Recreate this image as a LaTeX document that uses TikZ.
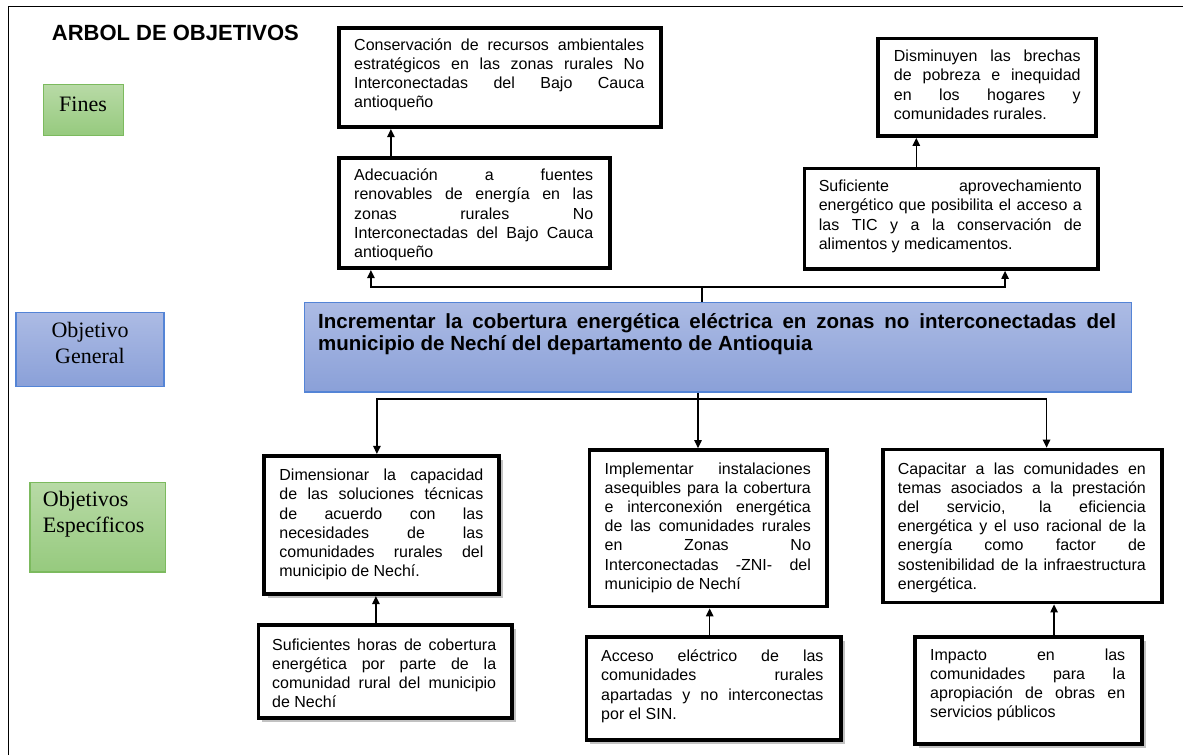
\documentclass[tikz,border=0pt]{standalone}
\usepackage{fontspec}
\setmainfont{Liberation Sans}
\newfontfamily\serifa{Liberation Serif}
\usetikzlibrary{arrows.meta,fit,shadows}
\definecolor{verdeA}{RGB}{184,218,166}
\definecolor{verdeB}{RGB}{150,202,126}
\definecolor{verdeBorde}{RGB}{124,186,94}
\definecolor{azulA}{RGB}{172,187,228}
\definecolor{azulB}{RGB}{138,160,216}
\definecolor{azulBorde}{RGB}{84,132,214}
\def\cuerpo{\fontsize{16}{19.2}\selectfont}
\def\grande{\fontsize{20.5}{22}\selectfont\bfseries}
\def\etiq{\serifa\fontsize{22}{25.5}\selectfont}
\tikzset{
	caja/.style={draw=black, line width=3.8pt, fill=white, inner sep=0pt},
	sombra/.style={drop shadow={shadow xshift=4pt, shadow yshift=-4pt, fill=black!40, opacity=.6}},
	texto/.style={anchor=north west, inner sep=0pt, align=justify, font=\cuerpo,
		execute at begin node={\tolerance=10000\hbadness=10000\strut}},
	verde/.style={draw=verdeBorde, line width=1.5pt, top color=verdeA, bottom color=verdeB, inner sep=0pt},
	azul/.style={draw=azulBorde, line width=1.5pt, top color=azulA, bottom color=azulB, inner sep=0pt},
	etiqueta/.style={inner sep=0pt, font=\etiq, execute at begin node=\strut},
	linea/.style={line width=1.3pt},
	flecha/.style={line width=1.3pt, -{Triangle[length=8pt,width=7.5pt]}}
}

\begin{document}
\begin{tikzpicture}[x=1pt, y=-1pt]
			%%%%% START %%%%%
			\useasboundingbox (0,0) rectangle (1183,755);
			\draw[line width=1.5pt] (8.4,755) -- (8.4,6.7) -- (1183,6.7);
			
			\node[anchor=base west, inner sep=0pt, font=\fontsize{22}{26}\selectfont\bfseries] (titulo) at (51.7,40) {ARBOL DE OBJETIVOS};
			
			%% etiquetas
			\node[verde, fit={(43.7,84.7) (123.3,135.3)}] (fines) {};
			\node[etiqueta, anchor=north] (finest) at (83,93.8) {Fines};
			\node[azul, fit={(16,312.4) (163.9,386.6)}] (og) {};
			\node[etiqueta, anchor=north, align=center] (ogt) at (90,322.3) {Objetivo\\General};
			\node[verde, fit={(30,482.4) (165.3,572)}] (oe) {};
			\node[etiqueta, anchor=north west, align=left] (oet) at (42.7,491.5) {Objetivos\\Específicos};
			
			%% fines
			\node[caja, fit={(339.3,27.8) (661.2,127.2)}] (c1) {};
			\node[texto, text width=290pt] (c1t) at (354,36.4) {Conservación de recursos ambientales\linebreak estratégicos en las zonas rurales No\linebreak Interconectadas del Bajo Cauca\linebreak antioqueño};
			
			\node[caja, fit={(339.3,157.8) (610.2,268.2)}] (a1) {};
			\node[texto, text width=239pt] (a1t) at (354,167.1) {Adecuación a fuentes\linebreak renovables de energía en las\linebreak zonas rurales No\linebreak Interconectadas del Bajo Cauca\linebreak antioqueño};
			
			\node[caja, fit={(877.8,38.5) (1096.2,136)}] (d) {};
			\node[texto, text width=186.7pt] (dt) at (893.7,48.1) {Disminuyen las brechas\linebreak de pobreza e inequidad\linebreak en los hogares y\linebreak comunidades rurales.};
			
			\node[caja, fit={(804.4,168.5) (1098.2,269)}] (s) {};
			\node[texto, text width=263pt] (st) at (818.6,178.1) {Suficiente aprovechamiento\linebreak energético que posibilita el acceso a\linebreak las TIC y a la conservación de\linebreak alimentos y medicamentos.};
			
			%% objetivo general
			\node[azul, fit={(304.3,302.7) (1131.3,392)}] (g) {};
			\node[texto, font=\grande, text width=798pt] (gt) at (318,312.9) {Incrementar la cobertura energética eléctrica en zonas no interconectadas del\linebreak municipio de Nechí del departamento de Antioquia};
			
			%% objetivos especificos
			\node[caja, sombra, fit={(263.8,455.8) (498.9,594.2)}] (dim) {};
			\node[texto, text width=204pt] (dimt) at (279.2,467.1) {Dimensionar la capacidad\linebreak de las soluciones técnicas\linebreak de acuerdo con las\linebreak necesidades de las\linebreak comunidades rurales del\linebreak municipio de Nechí.};
			
			\node[caja, fit={(589.5,450) (827.2,606.5)}] (imp) {};
			\node[texto, text width=206.2pt] (impt) at (604.5,460.4) {Implementar instalaciones\linebreak asequibles para la cobertura\linebreak e interconexión energética\linebreak de las comunidades rurales\linebreak en Zonas No\linebreak Interconectadas -ZNI- del\linebreak municipio de Nechí};
			
			\node[caja, fit={(882.8,449.5) (1162.3,602.5)}] (cap) {};
			\node[texto, text width=248pt] (capt) at (897.7,460.4) {Capacitar a las comunidades en\linebreak temas asociados a la prestación\linebreak del servicio, la eficiencia\linebreak energética y el uso racional de la\linebreak energía como factor de\linebreak sostenibilidad de la infraestructura\linebreak energética.};
			
			%% medios
			\node[caja, sombra, fit={(258.4,625) (512,718.2)}] (suf) {};
			\node[texto, text width=224pt] (suft) at (272,636.4) {Suficientes horas de cobertura\linebreak energética por parte de la\linebreak comunidad rural del municipio\linebreak de Nechí};
			
			\node[caja, sombra, fit={(586.4,636.8) (841,740)}] (acc) {};
			\node[texto, text width=222.3pt] (acct) at (601,648.1) {Acceso eléctrico de las\linebreak comunidades rurales\linebreak apartadas y no interconectas\linebreak por el SIN.};
			
			\node[caja, sombra, fit={(915,636.8) (1142.3,744.3)}] (imc) {};
			\node[texto, text width=195pt] (imct) at (930,646.4) {Impacto en las\linebreak comunidades para la\linebreak apropiación de obras en\linebreak servicios públicos};
			
			%% conectores arriba
			\coordinate (jt) at (702,287);
			\draw[linea] (g.north -| jt) -- (jt);
			\draw[flecha] (jt) -| ([xshift=33.5pt]a1.south west);
			\draw[flecha] (jt) -| ([xshift=-95pt]s.south east);
			\draw[flecha] ([xshift=53.5pt]a1.north west) -- ([xshift=53.5pt]c1.south west);
			\draw[flecha] ([xshift=113.8pt]s.north west) -- ([xshift=113.8pt]s.north west |- d.south);
			
			%% conectores abajo
			\coordinate (jb) at (698,399);
			\draw[flecha] (g.south -| jb) -- (imp.north -| jb);
			\draw[flecha] (jb) -| ([xshift=115pt]dim.north west);
			\draw[flecha] (jb) -| ([xshift=165.7pt]cap.north west);
			\draw[flecha] ([xshift=119.4pt]suf.north west) -- ([xshift=119.4pt]suf.north west |- dim.south);
			\draw[flecha] ([xshift=125.2pt]acc.north west) -- ([xshift=125.2pt]acc.north west |- imp.south);
			\draw[flecha] ([xshift=141pt]imc.north west) -- ([xshift=141pt]imc.north west |- cap.south);
			%%%%% END %%%%%
\end{tikzpicture}
\end{document}
